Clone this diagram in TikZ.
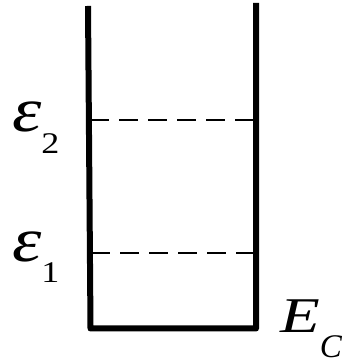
\documentclass[tikz,border=0pt]{standalone}
\usepackage{fontspec}
\setmainfont{Liberation Serif}
\begin{document}
\begin{tikzpicture}[x=1pt,y=1pt,
  wall/.style={line width=6pt,line join=round,line cap=butt},
  level/.style={line width=2pt,dash pattern=on 19pt off 10pt},
  lbl/.style={inner sep=0pt,anchor=base west}]
\useasboundingbox (0,0) rectangle (344,363);
\coordinate (lt) at (88,357);
\coordinate (lb) at (90.5,34.5);
\coordinate (rb) at (256,34.5);
\coordinate (rt) at (256,360);
\draw[wall] (lt) -- (lb) -- (rb) -- (rt);
\coordinate (a2) at (90,243);
\coordinate (b2) at (256,243);
\coordinate (a1) at (91,110);
\coordinate (b1) at (256,110);
\draw[level] (a2) -- (b2);
\draw[level] (a1) -- (b1);
\node[lbl] (e2) at (12,231) {\fontsize{63}{63}\selectfont\scalebox{1.18}[1]{\itshape ε}\raisebox{-22pt}{\fontsize{30}{30}\selectfont\scalebox{1.2}[1]{2}}};
\node[lbl] (e1) at (12,101) {\fontsize{63}{63}\selectfont\scalebox{1.18}[1]{\itshape ε}\raisebox{-21pt}{\fontsize{30}{30}\selectfont\scalebox{1.2}[1]{1}}};
\node[lbl] (ec) at (280,30) {\fontsize{50}{50}\selectfont\scalebox{1.3}[1]{\itshape E}\raisebox{-25pt}{\fontsize{33}{33}\selectfont\itshape C}};
\end{tikzpicture}
\end{document}
